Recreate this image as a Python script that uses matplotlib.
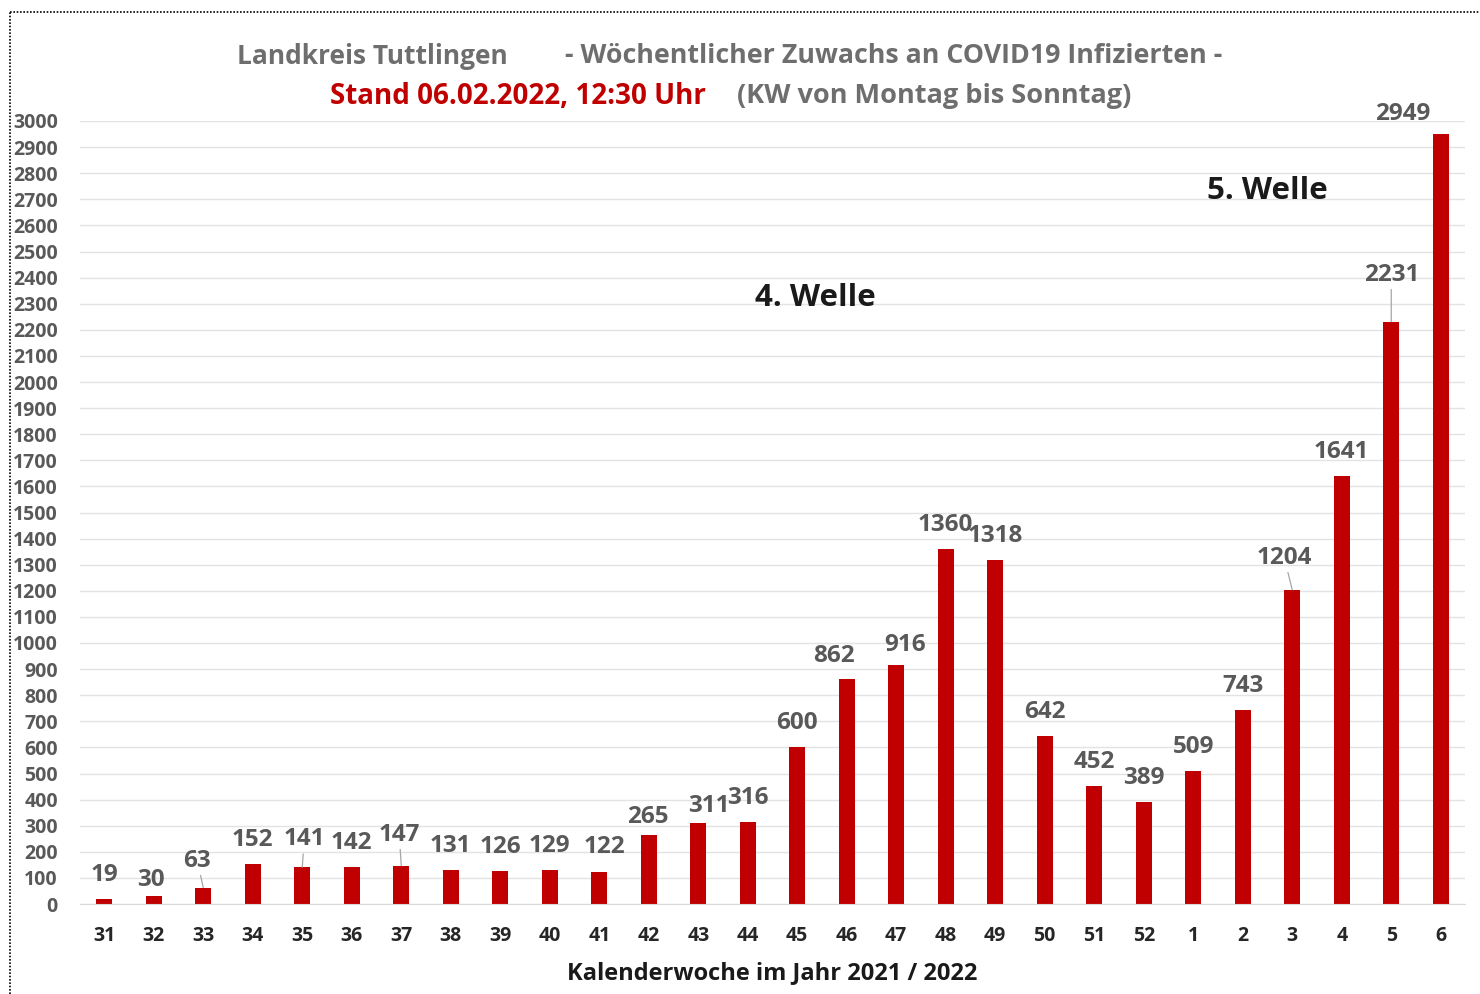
import matplotlib
matplotlib.use('Agg')
import matplotlib.pyplot as plt
from matplotlib.lines import Line2D

plt.rcParams['font.family'] = ['Open Sans', 'DejaVu Sans']
plt.rcParams['font.weight'] = 'bold'

# weekly new COVID19 cases, Landkreis Tuttlingen
weeks = ['31', '32', '33', '34', '35', '36', '37', '38', '39', '40', '41', '42', '43', '44',
         '45', '46', '47', '48', '49', '50', '51', '52', '1', '2', '3', '4', '5', '6']
cases = [19, 30, 63, 152, 141, 142, 147, 131, 126, 129, 122, 265, 311, 316,
         600, 862, 916, 1360, 1318, 642, 452, 389, 509, 743, 1204, 1641, 2231, 2949]

# label offsets in pixels (dx, dy), default (0, 24); True = leader line
label_shift = {'32': (-3, 16, False), '33': (-6, 27, True), '35': (2, 28, True),
               '37': (-2, 31, True), '41': (5, 25, False), '42': (-1, 18, False),
               '43': (11, 17, False), '46': (-13, 23, False), '47': (9, 20, False),
               '3': (-8, 32, True), '5': (0, 47, True), '6': (-38, 20, False)}

RED = '#C00000'
GRAY = '#595959'

fig = plt.figure(figsize=(14.8, 9.94), dpi=100)
ax = fig.add_axes([80/1480, 1-904/994, 1385/1480, (904-121)/994])

x = list(range(len(weeks)))
ax.bar(x, cases, width=0.32, color=RED, zorder=3)

for i, (w, v) in enumerate(zip(weeks, cases)):
    dx, dy, lead = label_shift.get(w, (0, 24, False))
    kw = {}
    if lead:
        kw['arrowprops'] = dict(arrowstyle='-', color='#A6A6A6', lw=0.9,
                                shrinkA=0, shrinkB=0)
    ax.annotate(str(v), xy=(i, v), xytext=(dx, dy), textcoords='offset pixels',
                ha='center', va='center', fontsize=17.5, color=GRAY,
                fontweight='bold', annotation_clip=False, **kw)

ax.set_xlim(-0.49, len(weeks) - 0.51)
ax.set_ylim(0, 3000)
ax.set_yticks(range(0, 3001, 100))
ax.set_xticks(x)
ax.set_xticklabels(weeks, fontsize=14, color='#262626', fontweight='bold')
for lab in ax.get_yticklabels():
    lab.set_fontsize(14)
    lab.set_color(GRAY)
    lab.set_fontweight('bold')
ax.tick_params(axis='y', length=0, pad=16)
ax.tick_params(axis='x', length=0, pad=16)
ax.grid(axis='y', color='#E3E3E3', lw=1, zorder=0)
for s in ['top', 'right', 'left']:
    ax.spines[s].set_visible(False)
ax.spines['bottom'].set_color('#D9D9D9')
ax.spines['bottom'].set_zorder(4)

ax.set_xlabel('Kalenderwoche im Jahr 2021 / 2022', fontsize=17, color='#1a1a1a',
              fontweight='bold', labelpad=11)

# wave annotations
ax.text(13.15, 2320, '4. Welle', fontsize=22.5, fontweight='bold', color='#1a1a1a', va='center')
ax.text(22.28, 2730, '5. Welle', fontsize=22.5, fontweight='bold', color='#1a1a1a', va='center')

# title
fig.text(237/1480, 1-56/994, 'Landkreis Tuttlingen', fontsize=19, color='#6E6E6E',
         fontweight='bold', va='center')
fig.text(565/1480, 1-56/994, '- Wöchentlicher Zuwachs an COVID19 Infizierten -', fontsize=19.3,
         color='#6E6E6E', fontweight='bold', va='center')
fig.text(330/1480, 1-96/994, 'Stand 06.02.2022, 12:30 Uhr', fontsize=20, color=RED,
         fontweight='bold', va='center')
fig.text(737/1480, 1-96/994, '(KW von Montag bis Sonntag)', fontsize=19.5, color='#6E6E6E',
         fontweight='bold', va='center')

# dotted frame
fig.add_artist(Line2D([10/1480, 10/1480], [0, 1-12/994], transform=fig.transFigure,
                      color='black', lw=1.2, ls=(0, (1, 1))))
fig.add_artist(Line2D([10/1480, 1], [1-12/994, 1-12/994], transform=fig.transFigure,
                      color='black', lw=1.2, ls=(0, (1, 1))))

fig.savefig('out.png', dpi=100)
